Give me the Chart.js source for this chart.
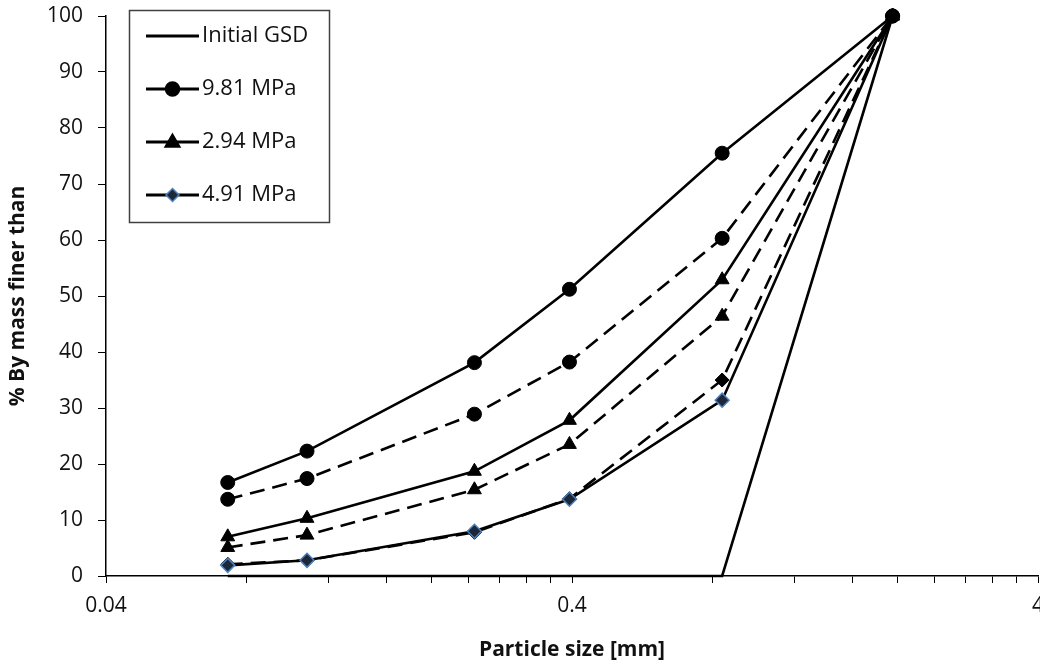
<!DOCTYPE html>
<html><head><meta charset="utf-8">
<script src="https://cdn.jsdelivr.net/npm/chart.js@4.4.1/dist/chart.umd.min.js"></script>
<style>html,body{margin:0;padding:0;background:#fff;overflow:hidden;}#wrap{position:relative;width:1040px;height:666px;overflow:hidden;}</style>
</head><body><div id="wrap"><canvas id="c" width="1047" height="666"></canvas></div>
<script>
// ---- data ----
const particleSizes = [0.073, 0.108, 0.247, 0.395, 0.84, 1.95];
const initialGSD   = [0, 0, 0, 0, 0, 100];
const mpa981       = [16.7, 22.3, 38.1, 51.2, 75.5, 100];
const mpa981Dash   = [13.7, 17.4, 28.9, 38.2, 60.3, 100];
const mpa294       = [7.0, 10.3, 18.7, 27.8, 52.9, 100];
const mpa294Dash   = [5.1, 7.3, 15.4, 23.5, 46.4, 100];
const mpa491       = [1.9, 2.8, 8.0, 13.7, 31.4, 100];
const mpa491Dash   = [2.1, 2.8, 7.8, 13.8, 35.0, 100];
const seriesLabels = ['Initial GSD', '9.81 MPa', '2.94 MPa', '4.91 MPa'];
const xTickValues  = [0.04, 0.08, 0.12, 0.16, 0.2, 0.24, 0.28, 0.32, 0.36, 0.4,
                      0.8, 1.2, 1.6, 2.0, 2.4, 2.8, 3.2, 3.6, 4];
const xLabelValues = [0.04, 0.4, 4];
const xTickLabels  = ['0.04', '0.4', '4'];
const yTickStep = 10;

const FONT = "'Open Sans', 'DejaVu Sans', sans-serif";
const TXT = '#111';
const pts = arr => particleSizes.map((x, i) => ({x: x, y: arr[i]}));

function ds(label, arr, style, dashed, extra) {
  return Object.assign({
    label: label, data: pts(arr), borderColor: '#000', borderWidth: 2.6,
    borderDash: dashed ? [15, 8] : [], pointStyle: style || false,
    pointRadius: style ? 7 : 0, pointBackgroundColor: '#000', pointBorderColor: '#000',
    pointBorderWidth: 1, tension: 0, fill: false, clip: false
  }, extra || {});
}

const datasets = [
  ds(seriesLabels[0], initialGSD, null, false),
  ds(seriesLabels[1], mpa981, 'circle', false),
  ds(seriesLabels[1] + ' ', mpa981Dash, 'circle', true),
  ds(seriesLabels[2], mpa294, 'triangle', false, {pointRadius: 8}),
  ds(seriesLabels[2] + ' ', mpa294Dash, 'triangle', true, {pointRadius: 8}),
  ds(seriesLabels[3], mpa491, 'rectRot', false, {pointBackgroundColor: '#1c2838', pointBorderColor: '#4f81bd', pointBorderWidth: 1.5}),
  ds(seriesLabels[3] + ' ', mpa491Dash, 'rectRot', true)
];

function drawMarker(ctx, style, x, y, fill, stroke) {
  ctx.save();
  ctx.fillStyle = fill; ctx.strokeStyle = stroke; ctx.lineWidth = 1.5;
  ctx.beginPath();
  if (style === 'circle') { ctx.arc(x, y, 7, 0, Math.PI * 2); }
  else if (style === 'triangle') { ctx.moveTo(x, y - 8); ctx.lineTo(x + 7.5, y + 5); ctx.lineTo(x - 7.5, y + 5); ctx.closePath(); }
  else if (style === 'rectRot') { ctx.moveTo(x, y - 6.5); ctx.lineTo(x + 6.5, y); ctx.lineTo(x, y + 6.5); ctx.lineTo(x - 6.5, y); ctx.closePath(); }
  ctx.fill(); ctx.stroke();
  ctx.restore();
}

const legendPlugin = {
  id: 'boxLegend',
  afterDraw(chart) {
    const ctx = chart.ctx;
    const bx = 129.5, by = 10.5, bw = 200, bh = 212;
    ctx.save();
    ctx.fillStyle = '#fff'; ctx.fillRect(bx, by, bw, bh);
    ctx.strokeStyle = '#404040'; ctx.lineWidth = 1.5; ctx.strokeRect(bx, by, bw, bh);
    const entries = [datasets[0], datasets[1], datasets[3], datasets[5]];
    entries.forEach((d, i) => {
      const y = 36 + i * 53;
      ctx.strokeStyle = '#000'; ctx.lineWidth = 3.2; ctx.setLineDash([]);
      ctx.beginPath(); ctx.moveTo(146, y); ctx.lineTo(199, y); ctx.stroke();
      if (d.pointStyle) drawMarker(ctx, d.pointStyle, 172.5, y, d.pointBackgroundColor, d.pointBorderColor);
      ctx.fillStyle = TXT; ctx.font = "22px " + FONT; ctx.textBaseline = 'middle'; ctx.textAlign = 'left';
      ctx.fillText(seriesLabels[i], 202, y);
    });
    ctx.restore();
  }
};

new Chart(document.getElementById('c'), {
  type: 'line',
  data: {datasets: datasets},
  options: {
    responsive: false, animation: false, devicePixelRatio: 1,
    layout: {padding: {top: 16, right: 0, left: 0, bottom: 0}},
    plugins: {legend: {display: false}, tooltip: {enabled: false}},
    scales: {
      x: {
        type: 'logarithmic', min: 0.04, max: 4, position: 'bottom',
        afterBuildTicks: s => { s.ticks = xTickValues.map(v => ({value: v})); },
        afterFit: s => { s.height = 90; s.paddingLeft = 0; s.paddingRight = 0; },
        ticks: {
          autoSkip: false, maxRotation: 0, minRotation: 0, padding: 10, color: TXT,
          font: {family: FONT, size: 21},
          callback: v => { const j = xLabelValues.findIndex(t => Math.abs(t - v) < 1e-9); return j >= 0 ? xTickLabels[j] : ''; }
        },
        grid: {display: true, drawOnChartArea: false, drawTicks: true, tickLength: 7, color: '#000', lineWidth: 1},
        border: {display: true, color: '#000', width: 1.5},
        title: {display: true, text: 'Particle size [mm]', color: TXT, font: {family: FONT, size: 21, weight: 'bold'}, padding: {top: 0, bottom: 3}}
      },
      y: {
        type: 'linear', min: 0, max: 100,
        afterFit: s => { s.width = 106; s.paddingTop = 0; s.paddingBottom = 0; },
        ticks: {stepSize: yTickStep, padding: 15, color: TXT, font: {family: FONT, size: 21}},
        grid: {display: true, drawOnChartArea: false, drawTicks: true, tickLength: 8, color: '#000', lineWidth: 1},
        border: {display: true, color: '#000', width: 1.5},
        title: {display: true, text: '% By mass finer than', color: TXT, font: {family: FONT, size: 21, weight: 'bold'}, padding: {top: 5, bottom: 0}}
      }
    }
  },
  plugins: [legendPlugin]
});
</script></body></html>
